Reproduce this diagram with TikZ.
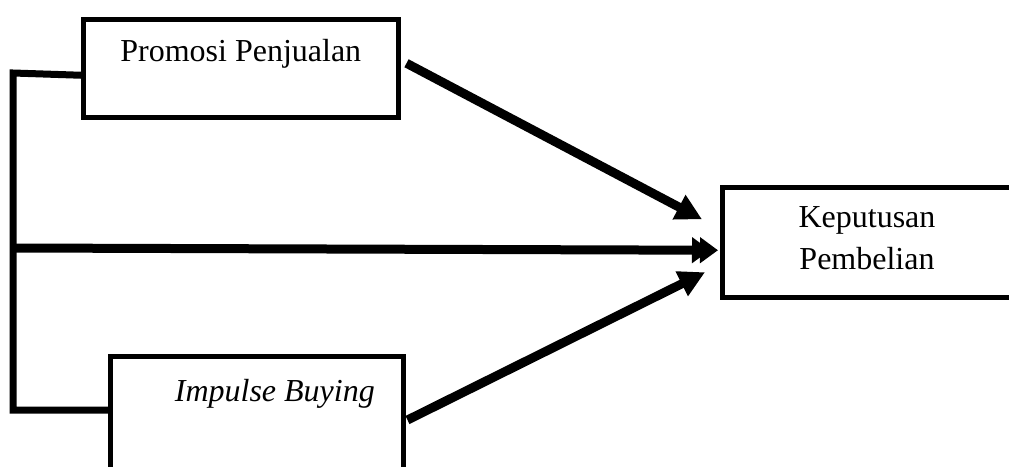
\documentclass[tikz,border=0pt]{standalone}
\usepackage{fontspec}
\setmainfont{Liberation Serif}
\usetikzlibrary{arrows.meta}
\begin{document}
\begin{tikzpicture}[x=1pt,y=-1pt,
  box/.style={draw, line width=4.5pt, inner sep=0pt, font=\fontsize{32}{42}\selectfont},
  txt/.style={inner sep=0pt, align=center, font=\fontsize{32}{42}\selectfont},
  link/.style={line width=9pt, -{Triangle[length=26pt,width=26pt]}},
  dlink/.style={line width=9pt, -{Triangle[length=18pt,width=25pt,sep=-10pt] Triangle[length=18pt,width=25pt]}},
  frame/.style={line width=7pt, line join=miter}]
\useasboundingbox (0,0) rectangle (1009,466);
\clip (0,0) rectangle (1009,466);
\node[box, anchor=north west, minimum width=315pt, text height=42pt, text depth=56pt] (promosi) at (81,17) {Promosi Penjualan};
\node[box, anchor=north west, minimum width=293pt, minimum height=150pt] (impulse) at (108,354) {};
\node[txt, anchor=base east] (impulsetxt) at (375,401) {\itshape Impulse Buying};
\node[box, anchor=north west, minimum width=300pt, minimum height=110pt] (keputusan) at (720,185) {};
\node[txt] (keputusantxt) at (867,238) {Keputusan\\Pembelian};
\coordinate (ftop) at (13,73);
\coordinate (fbot) at (13,410);
\coordinate (mid) at (16,248);
\draw[frame] ([yshift=-7pt]promosi.west) -- (ftop) -- (fbot) -- (fbot -| impulse.west);
\draw[link] ([xshift=6pt,yshift=5pt]promosi.east) -- ([xshift=-18pt,yshift=23pt]keputusan.west);
\draw[dlink] (mid) -- ([xshift=-2pt,yshift=-8pt]keputusan.west);
\draw[link] ([xshift=2pt,yshift=-66pt]impulse.north east) -- ([xshift=-15pt,yshift=-30pt]keputusan.west);
\end{tikzpicture}
\end{document}
